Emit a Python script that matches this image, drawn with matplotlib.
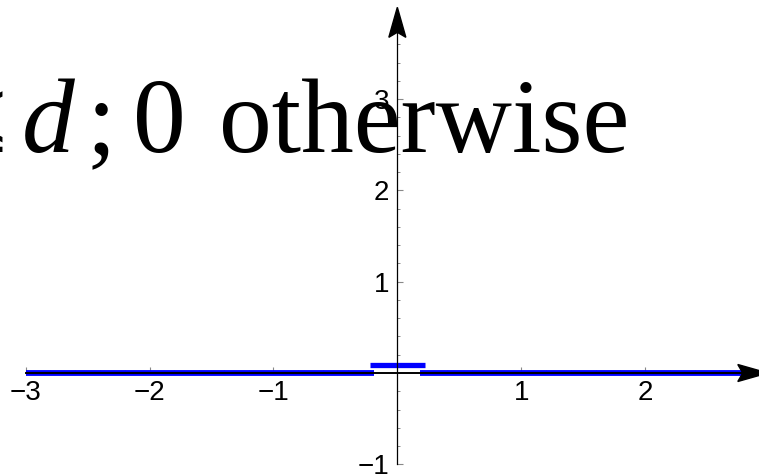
import matplotlib
matplotlib.use("Agg")
import matplotlib.pyplot as plt
import matplotlib.transforms as mtransforms
from matplotlib.patches import Polygon
import numpy as np

plt.rcParams["font.family"] = ["Liberation Sans", "DejaVu Sans"]
plt.rcParams["mathtext.fontset"] = "custom"
plt.rcParams["mathtext.rm"] = "Liberation Serif"
plt.rcParams["mathtext.it"] = "Liberation Serif:italic"

# piecewise pieces: zero outside, small bump in the middle
left_x = [-3.0, -0.19]
left_y = [0.0, 0.0]
mid_x = [-0.22, 0.22]
mid_y = [0.09, 0.09]
right_x = [0.18, 2.95]
right_y = [0.0, 0.0]

x_ticks = [-3, -2, -1, 1, 2]
y_ticks = [-1, 1, 2, 3]
x_minor = np.arange(-3.0, 2.81, 0.2)
y_minor = np.arange(-1.0, 3.81, 0.2)

W, H = 759, 474
fig = plt.figure(figsize=(W / 100, H / 100), dpi=100)
ax = fig.add_axes([0, 0, 1, 1])
ax.set_xlim(-3.207, 2.919)
ax.set_ylim(-1.106, 4.085)

# formula text sitting behind the axes, set piece by piece
base = 1 - 152 / H
big = dict(transform=fig.transFigure, va="baseline", fontsize=76,
           family="Liberation Serif", color="black", zorder=0)
ax.text(76 / W, base, r"$|x| \leq d$", ha="right", **big)
ax.text(87 / W, base, ";", ha="left", **big)
ax.text(133 / W, base, "0", ha="left", **big)
ax.text(629 / W, base, "otherwise", ha="right", **big)

blue = "#0000ff"
ax.plot(left_x, left_y, color=blue, lw=4.2, solid_capstyle="butt", zorder=2)
ax.plot(right_x, right_y, color=blue, lw=4.2, solid_capstyle="butt", zorder=2)
ax.plot(mid_x, mid_y, color=blue, lw=3.8, solid_capstyle="butt", zorder=2)

# axes through the origin
for side in ["top", "right"]:
    ax.spines[side].set_visible(False)
ax.spines["left"].set_position(("data", 0))
ax.spines["bottom"].set_position(("data", 0))
ax.spines["left"].set_bounds(-1, 3.9)
ax.spines["bottom"].set_bounds(-3, 2.95)
ax.spines["left"].set_linewidth(0.9)
ax.spines["bottom"].set_linewidth(1.4)
for side in ["left", "bottom"]:
    ax.spines[side].set_zorder(3)

ax.set_xticks(x_ticks)
ax.set_yticks(y_ticks)
ax.set_xticks(x_minor, minor=True)
ax.set_yticks(y_minor, minor=True)
ax.set_xticklabels(["\u2212" + str(-t) if t < 0 else str(t) for t in x_ticks])
ax.set_yticklabels(["\u2212" + str(-t) if t < 0 else str(t) for t in y_ticks])
ax.tick_params(which="major", direction="in", length=4.5, width=0.8,
               color="#888888", labelsize=20)
ax.tick_params(axis="x", which="major", pad=5)
ax.tick_params(axis="y", which="major", pad=6)
ax.tick_params(which="minor", direction="in", length=2.5, width=0.7,
               color="#888888")

# arrow heads, sized in pixels
head = np.array([[0, 0], [-8.5, -30], [0, -25], [8.5, -30]]) / 100.0

def arrow(xd, yd, angle):
    c, s = np.cos(angle), np.sin(angle)
    pts = head @ np.array([[c, s], [-s, c]])
    tr = fig.dpi_scale_trans + mtransforms.ScaledTranslation(xd, yd, ax.transData)
    ax.add_patch(Polygon(pts, closed=True, transform=tr, color="black",
                         clip_on=False, zorder=4))

arrow(0, 4.005, 0.0)
arrow(2.99, 0, -np.pi / 2)

fig.savefig("out.png", dpi=100)
